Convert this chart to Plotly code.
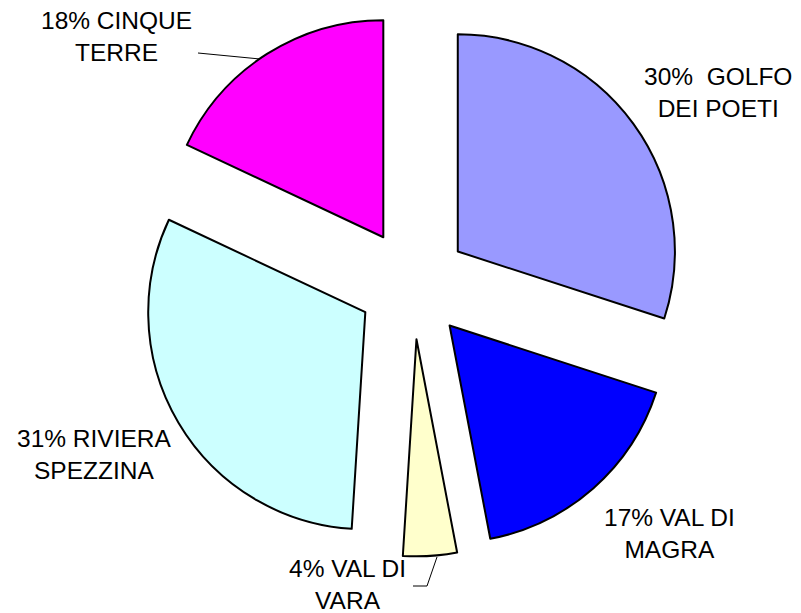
import plotly.graph_objects as go

categories = ["GOLFO\nDEI POETI", "VAL DI\nMAGRA", "VAL DI\nVARA", "RIVIERA\nSPEZZINA", "CINQUE\nTERRE"]
values = [30, 17, 4, 31, 18]
colors = ["#9999FF", "#0000FF", "#FFFFCC", "#CCFFFF", "#FF00FF"]
label_sep = ["  ", " ", " ", " ", " "]

OFF = 8  # page body margin
W, H = 801 - OFF, 613 - OFF

fig = go.Figure(go.Pie(
    values=values,
    labels=[c.replace("\n", " ") for c in categories],
    marker=dict(colors=colors, line=dict(color="black", width=2)),
    sort=False,
    direction="clockwise",
    rotation=0,
    pull=[0.255] * len(values),
    textinfo="none",
    showlegend=False,
    domain=dict(x=[0.1671, 0.8543], y=[0.0934, 0.9942]),
))

def P(px, py):
    return (px - OFF) / W, 1 - (py - OFF) / H

# label positions in screen pixels (block centres)
label_pos = [(718, 92), (669, 533), (347, 584), (94, 454), (116, 37)]
for cat, v, sep, (px, py) in zip(categories, values, label_sep, label_pos):
    first, second = cat.split("\n")
    txt = f"{v}%{sep}{first}<br>{second}"
    x, y = P(px, py)
    fig.add_annotation(
        x=x, y=y, xref="paper", yref="paper",
        text=txt, showarrow=False, align="center",
        xanchor="center", yanchor="middle",
        font=dict(family="Liberation Sans, Arial", size=24.5, color="black"),
    )

# leader lines
leaders = [
    [(198, 53), (260, 59)],
    [(413, 586), (427, 586), (437, 557)],
]
for pts in leaders:
    path = "M " + " L ".join(f"{P(x, y)[0]},{P(x, y)[1]}" for x, y in pts)
    fig.add_shape(type="path", path=path, xref="paper", yref="paper",
                  line=dict(color="black", width=1))

fig.update_layout(
    width=W, height=H,
    margin=dict(l=0, r=0, t=0, b=0),
    paper_bgcolor="white", plot_bgcolor="white",
)

fig.write_html("out.html")
